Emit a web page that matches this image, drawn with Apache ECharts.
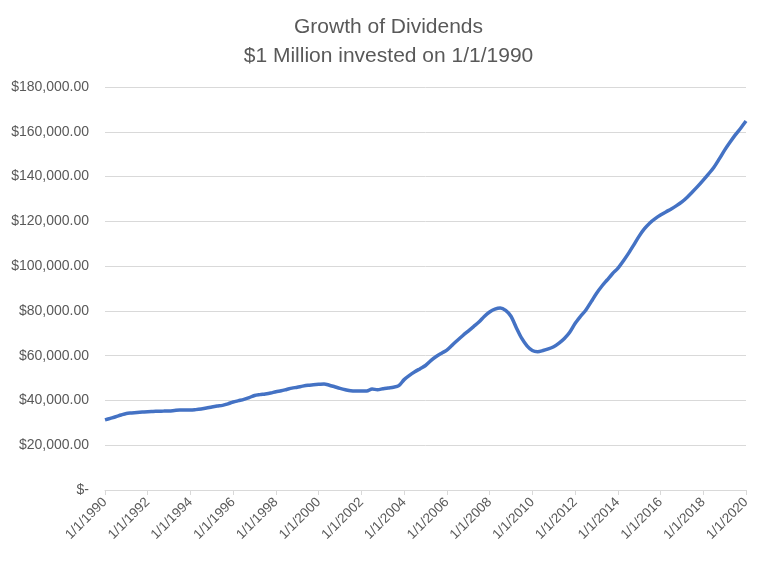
<!DOCTYPE html>
<html>
<head>
<meta charset="utf-8">
<script src="https://cdn.jsdelivr.net/npm/echarts@6/dist/echarts.min.js"></script>
<style>
html,body{margin:0;padding:0;background:#fff;}
#chart{width:777px;height:563px;}
</style>
</head>
<body>
<div id="chart"></div>
<script>
var years = [1990,1991,1992,1993,1994,1995,1996,1997,1998,1999,2000,2001,2002,2003,2004,2005,2006,2007,2008,2009,2010,2011,2012,2013,2014,2015,2016,2017,2018,2019,2020];
var quarterMonths = [1,4,7,10];
var dividendValues = [
  31300, 32000, 32700, 33500,
  34200, 34400, 34600, 34800,
  35000, 35100, 35200, 35250,
  35300, 35500, 35700, 35700,
  35700, 35900, 36200, 36600,
  37100, 37500, 37800, 38500,
  39300, 39900, 40500, 41300,
  42200, 42600, 42900, 43300,
  43900, 44300, 44900, 45500,
  45900, 46400, 46800, 47000,
  47200, 47400, 46800, 46100,
  45400, 44800, 44300, 44200,
  44200, 44200, 45100, 44800,
  45200, 45600, 45900, 46600,
  49300, 51200, 52800, 54200,
  55600, 57800, 59600, 61100,
  62500, 64700, 66900, 69000,
  71000, 73000, 75000, 77500,
  79500, 80800, 81300, 80200,
  77600, 72500, 67800, 64400,
  62300, 61800, 62300, 63000,
  64000, 65600, 67700, 70500,
  74400, 77500, 80300, 84000,
  87800, 91000, 93800, 96600,
  99000, 102200, 105700, 109500,
  113400, 116700, 119300, 121200,
  122800, 124200, 125500, 127000,
  128700, 130800, 133200, 135700,
  138400, 141200, 144200, 147900,
  151800, 155300, 158600, 161600,
  164800
];
var tickLabels = ['1/1/1990','1/1/1992','1/1/1994','1/1/1996','1/1/1998','1/1/2000','1/1/2002','1/1/2004','1/1/2006','1/1/2008','1/1/2010','1/1/2012','1/1/2014','1/1/2016','1/1/2018','1/1/2020'];
var yTicks = [0,20000,40000,60000,80000,100000,120000,140000,160000,180000];

var categories = [];
years.forEach(function(y){
  quarterMonths.forEach(function(m){
    if (categories.length < dividendValues.length) categories.push(m + '/1/' + y);
  });
});

function isShown(idx){ return tickLabels.indexOf(categories[idx]) >= 0; }

var chart = echarts.init(document.getElementById('chart'));
chart.setOption({
  animation: false,
  backgroundColor: '#ffffff',
  textStyle: { fontFamily: 'Liberation Sans' },
  title: {
    text: 'Growth of Dividends\n$1 Million invested on 1/1/1990',
    left: 'center',
    top: 8,
    textStyle: { fontSize: 21, fontWeight: 'normal', color: '#595959', lineHeight: 29, fontFamily: 'Liberation Sans' }
  },
  grid: { left: 105, right: 31, top: 87, bottom: 73 },
  xAxis: {
    type: 'category',
    data: categories,
    boundaryGap: false,
    axisLine: { lineStyle: { color: '#d9d9d9', width: 1 } },
    axisTick: { interval: function(i){ return isShown(i); }, length: 5, lineStyle: { color: '#d9d9d9' } },
    axisLabel: {
      interval: function(i){ return isShown(i); },
      rotate: 45,
      color: '#595959',
      fontSize: 13.5,
      margin: 10,
      fontFamily: 'Liberation Sans'
    },
    splitLine: { show: false }
  },
  yAxis: {
    type: 'value',
    min: yTicks[0],
    max: yTicks[yTicks.length - 1],
    interval: yTicks[1] - yTicks[0],
    axisLine: { show: false },
    axisTick: { show: false },
    axisLabel: {
      color: '#595959',
      fontSize: 14,
      margin: 16,
      fontFamily: 'Liberation Sans',
      formatter: function(v){
        if (v === 0) return '$-';
        return '$' + v.toLocaleString('en-US', { minimumFractionDigits: 2, maximumFractionDigits: 2 });
      }
    },
    splitLine: { lineStyle: { color: '#d9d9d9', width: 1 } }
  },
  series: [{
    type: 'line',
    data: dividendValues,
    smooth: 0.3,
    showSymbol: false,
    symbol: 'none',
    lineStyle: { color: '#4472C4', width: 3.5 },
    itemStyle: { color: '#4472C4' }
  }]
});
</script>
</body>
</html>
